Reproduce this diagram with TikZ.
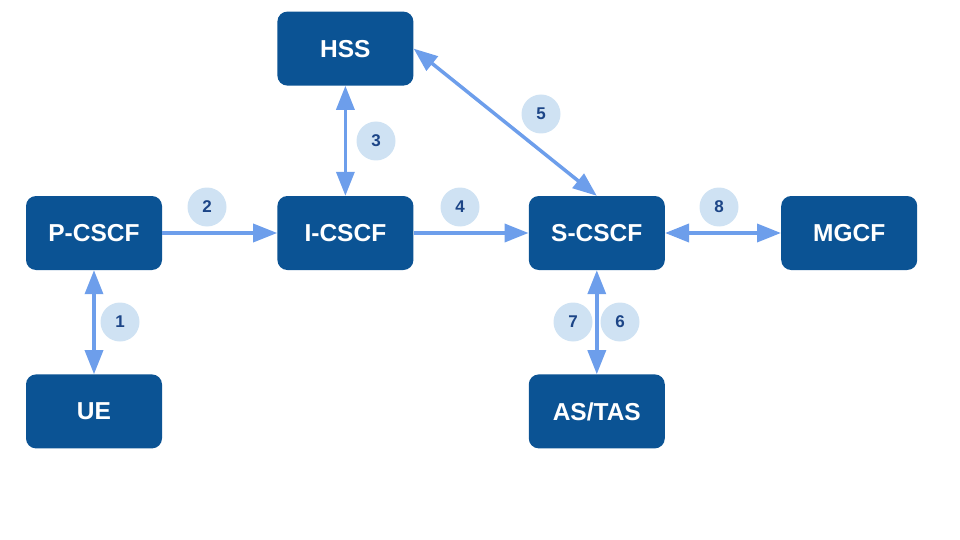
\documentclass[tikz,border=0pt]{standalone}
\usepackage{fontspec}
\setmainfont{Liberation Sans}
\usetikzlibrary{positioning,arrows.meta}
\definecolor{boxblue}{HTML}{0B5394}
\definecolor{linkblue}{HTML}{6D9EEB}
\definecolor{numfill}{HTML}{CFE2F3}
\definecolor{numtext}{HTML}{1C4587}
\tikzset{
  entity/.style={draw=none, fill=boxblue, rounded corners=10pt,
    minimum width=136pt, minimum height=74pt, inner sep=0pt,
    text=white, font=\fontsize{24.5}{28}\selectfont\bfseries},
  iface/.style={circle, fill=numfill, minimum size=39pt, inner sep=0pt,
    text=numtext, font=\fontsize{17}{19}\selectfont\bfseries},
  link/.style={draw=linkblue, line width=3.5pt,
    -{Triangle[length=24pt,width=18pt]}},
  blink/.style={draw=linkblue, line width=3.5pt,
    {Triangle[length=24pt,width=18pt]}-{Triangle[length=24pt,width=18pt]}},
}
\begin{document}
\begin{tikzpicture}[x=1pt, y=1pt]
    \useasboundingbox (0,0) rectangle (960,-540);
    % define network entities
    \node[entity] (pcscf) at (94,-233) {P-CSCF};
    \node[entity, right=115pt of pcscf] (icscf) {I-CSCF};
    \node[entity, right=115pt of icscf] (scscf) {S-CSCF};
    \node[entity, right=116pt of scscf] (mgcf) {MGCF};
    \node[entity, above=110pt of icscf] (hss) {HSS};
    \node[entity, below=104pt of pcscf] (ue) {UE};
    \node[entity, below=104pt of scscf] (as) {AS/TAS};
    % draw interfaces
    \draw[blink] (pcscf) -- (ue);
    \draw[link] (pcscf) -- (icscf);
    \draw[blink] (icscf) -- (hss);
    \draw[link] (icscf) -- (scscf);
    \draw[blink] (hss.east) -- (scscf.north);
    \draw[blink] (scscf) -- (as);
    \draw[blink] (scscf) -- (mgcf);
    % add interface numbers
    \node[iface] (if1) at (120,-322) {1};
    \node[iface] (if2) at (207,-207) {2};
    \node[iface] (if3) at (376,-141) {3};
    \node[iface] (if4) at (460,-207) {4};
    \node[iface] (if5) at (541,-114) {5};
    \node[iface] (if6) at (620,-322) {6};
    \node[iface] (if7) at (573,-322) {7};
    \node[iface] (if8) at (719,-207) {8};
\end{tikzpicture}
\end{document}
